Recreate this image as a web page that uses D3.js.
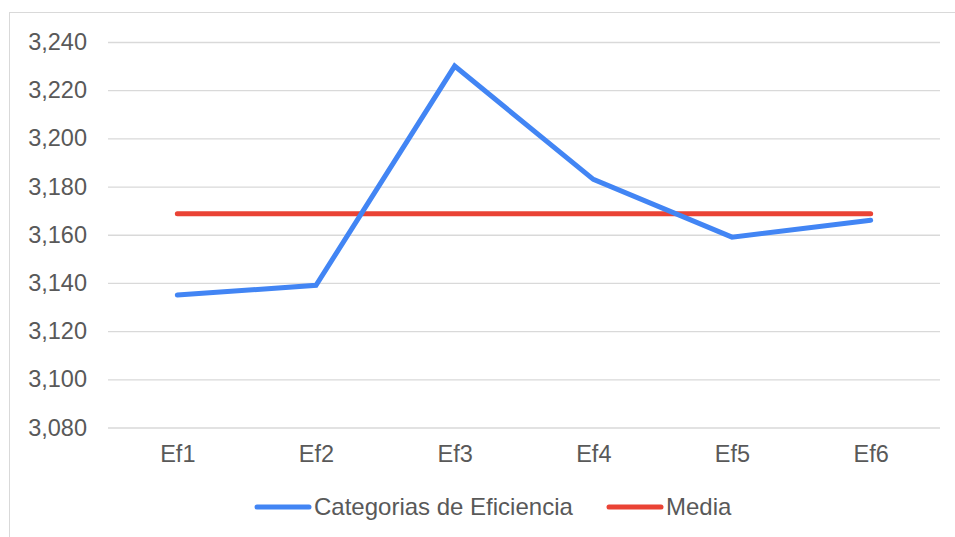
<!DOCTYPE html>
<html>
<head>
<meta charset="utf-8">
<script src="https://cdn.jsdelivr.net/npm/d3@7"></script>
<style>
  body { margin: 0; background: #fff; }
  svg { display: block; font-family: "Liberation Sans", Arial, sans-serif; }
</style>
</head>
<body>
<svg id="chart"></svg>
<script>
const categories = ["Ef1", "Ef2", "Ef3", "Ef4", "Ef5", "Ef6"];
const eficiencia = [3.135, 3.139, 3.230, 3.183, 3.159, 3.166];
const media = [3.1687, 3.1687, 3.1687, 3.1687, 3.1687, 3.1687];
const yTicks = [3.08, 3.10, 3.12, 3.14, 3.16, 3.18, 3.20, 3.22, 3.24];
const seriesNames = ["Categorias de Eficiencia", "Media"];

const width = 955, height = 537;
const svg = d3.select("#chart").attr("width", width).attr("height", height);

// outer chart frame
svg.append("rect")
  .attr("x", 9.5).attr("y", 12.5)
  .attr("width", width).attr("height", height)
  .attr("fill", "none").attr("stroke", "#d9d9d9").attr("stroke-width", 1);

const x = d3.scalePoint().domain(categories).range([108, 940]).padding(0.5);
const y = d3.scaleLinear().domain([3.08, 3.24]).range([427.5, 42]);

const es = d3.formatLocale({ decimal: ",", thousands: ".", grouping: [3], currency: ["", "€"] });
const fmt = es.format(".3f");

// gridlines + y labels
svg.append("g")
  .attr("transform", "translate(108,0)")
  .call(d3.axisLeft(y).tickValues(yTicks).tickSize(-832).tickFormat(fmt).tickPadding(21))
  .call(g => g.select(".domain").remove())
  .call(g => g.selectAll(".tick line").attr("stroke", "#d9d9d9").attr("stroke-width", 1.3))
  .call(g => g.selectAll(".tick text")
    .attr("fill", "#595959").style("font-size", "23.5px").style("font-family", "Liberation Sans, Arial, sans-serif"));

// category labels
svg.append("g")
  .attr("transform", "translate(0,427.5)")
  .call(d3.axisBottom(x).tickSize(0).tickPadding(18))
  .call(g => g.select(".domain").remove())
  .call(g => g.selectAll(".tick text")
    .attr("fill", "#595959").style("font-size", "23.5px").style("font-family", "Liberation Sans, Arial, sans-serif"));

const line = d3.line()
  .x((d, i) => x(categories[i]))
  .y(d => y(d));

svg.append("path")
  .datum(media)
  .attr("fill", "none").attr("stroke", "#ea4335").attr("stroke-width", 5)
  .attr("stroke-linecap", "round").attr("stroke-linejoin", "round")
  .attr("d", line);

svg.append("path")
  .datum(eficiencia)
  .attr("fill", "none").attr("stroke", "#4285f4").attr("stroke-width", 5)
  .attr("stroke-linecap", "round").attr("stroke-linejoin", "miter")
  .attr("d", line);

// legend
const legend = [
  { name: seriesNames[0], color: "#4285f4", x: 257 },
  { name: seriesNames[1], color: "#ea4335", x: 609 }
];
const lg = svg.append("g");
lg.selectAll("line").data(legend).join("line")
  .attr("x1", d => d.x).attr("x2", d => d.x + 52)
  .attr("y1", 507).attr("y2", 507)
  .attr("stroke", d => d.color).attr("stroke-width", 5).attr("stroke-linecap", "round");
lg.selectAll("text").data(legend).join("text")
  .attr("x", d => d.x + 57).attr("y", 515)
  .attr("fill", "#595959").style("font-size", "24px")
  .text(d => d.name);
</script>
</body>
</html>
